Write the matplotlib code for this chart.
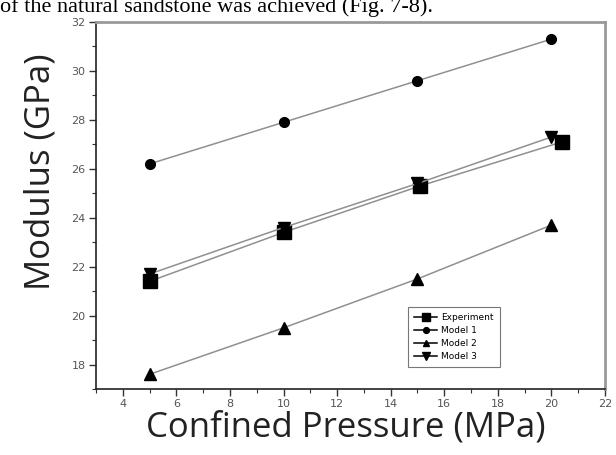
import matplotlib
matplotlib.use("Agg")
import matplotlib.pyplot as plt
from matplotlib.ticker import MultipleLocator

pressure = [5, 10, 15, 20]
exp_pressure = [5, 10, 15.1, 20.4]
experiment = [21.4, 23.4, 25.3, 27.1]
model1 = [26.2, 27.9, 29.6, 31.3]
model2 = [17.6, 19.5, 21.5, 23.7]
model3 = [21.7, 23.6, 25.4, 27.3]

W, H = 616, 455
fig = plt.figure(figsize=(W / 100, H / 100), dpi=100)
ax = fig.add_axes([96 / W, 1 - 389 / H, (605 - 96) / W, (389 - 22) / H])

lc = "#909090"
ax.plot(exp_pressure, experiment, color=lc, lw=1.1, marker="s", ms=10,
        mfc="black", mec="black", label="Experiment", zorder=3)
ax.plot(pressure, model1, color=lc, lw=1.1, marker="o", ms=7,
        mfc="black", mec="black", label="Model 1", zorder=3)
ax.plot(pressure, model2, color=lc, lw=1.1, marker="^", ms=8,
        mfc="black", mec="black", label="Model 2", zorder=3)
ax.plot(pressure, model3, color=lc, lw=1.1, marker="v", ms=9,
        mfc="black", mec="black", label="Model 3", zorder=3)

ax.set_xlim(3, 22)
ax.set_ylim(17, 32)
ax.xaxis.set_minor_locator(MultipleLocator(1))
ax.yaxis.set_minor_locator(MultipleLocator(1))
ax.set_xticks(range(4, 23, 2))
ax.set_yticks(range(18, 33, 2))
ax.tick_params(which="both", direction="out", colors="#333333", labelcolor="#555555",
               labelsize=8)
ax.tick_params(which="major", length=5, width=1, pad=2.5)
ax.tick_params(which="minor", length=3, width=0.8)
for s in ["left", "bottom"]:
    ax.spines[s].set_color("#222222")
    ax.spines[s].set_linewidth(1.2)
for s in ["top", "right"]:
    ax.spines[s].set_color("#999999")
    ax.spines[s].set_linewidth(2)

ax.set_xlabel("Confined Pressure (MPa)", fontsize=25, family="Open Sans",
              color="#222222", va="center")
ax.xaxis.set_label_coords(0.49, (389 - 428) / (389 - 22))
ax.set_ylabel("Modulus (GPa)", fontsize=25, family="Open Sans",
              color="#222222", va="center")
ax.yaxis.set_label_coords((41 - 96) / (605 - 96), (389 - 172) / (389 - 22))

leg = ax.legend(loc="lower left", bbox_to_anchor=((403 - 96) / (605 - 96), (389 - 372) / (389 - 22)),
                fontsize=6.5, frameon=True, fancybox=False, edgecolor="#555555",
                handlelength=2.6, borderpad=0.7, labelspacing=0.45, markerscale=0.6,
                handletextpad=0.4)
leg.get_frame().set_linewidth(0.8)
for line in leg.get_lines():
    line.set_color("black")

fig.text(0.0, 1.0 + 3 / H, "of the natural sandstone was achieved (Fig. 7-8).",
         family="Liberation Serif", fontsize=16, va="top", ha="left", color="black")

fig.savefig("out.png", dpi=100)
